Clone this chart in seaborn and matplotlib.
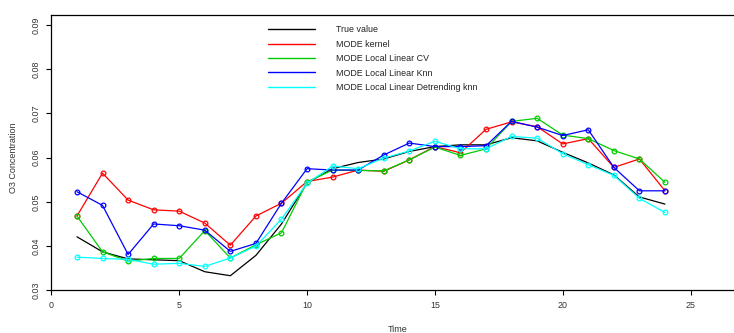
import matplotlib
matplotlib.use("Agg")
import matplotlib.pyplot as plt
from matplotlib.lines import Line2D
import numpy as np
import pandas as pd
import seaborn as sns

# Hourly ozone concentration: observed values and four MODE predictors
time = list(range(1, 25))
true_value = [0.0421, 0.0387, 0.0371, 0.0369, 0.0367, 0.0342, 0.0333, 0.0379, 0.0450,
              0.0543, 0.0575, 0.0589, 0.0597, 0.0614, 0.0625, 0.0629, 0.0629, 0.0645,
              0.0638, 0.0612, 0.0588, 0.0561, 0.0511, 0.0495]
mode_kernel = [0.0468, 0.0565, 0.0504, 0.0482, 0.0479, 0.0452, 0.0402, 0.0468, 0.0497,
               0.0546, 0.0556, 0.0572, 0.0569, 0.0595, 0.0625, 0.0611, 0.0664, 0.0681,
               0.0670, 0.0631, 0.0643, 0.0578, 0.0597, 0.0525]
mode_ll_cv = [0.0468, 0.0387, 0.0366, 0.0372, 0.0372, 0.0435, 0.0373, 0.0403, 0.0430,
              0.0545, 0.0572, 0.0571, 0.0570, 0.0595, 0.0624, 0.0605, 0.0620, 0.0682,
              0.0689, 0.0651, 0.0643, 0.0616, 0.0597, 0.0544]
mode_ll_knn = [0.0523, 0.0492, 0.0381, 0.0450, 0.0446, 0.0436, 0.0388, 0.0406, 0.0497,
               0.0575, 0.0572, 0.0572, 0.0606, 0.0633, 0.0625, 0.0625, 0.0627, 0.0682,
               0.0669, 0.0650, 0.0663, 0.0578, 0.0525, 0.0525]
mode_ll_detrend = [0.0375, 0.0372, 0.0370, 0.0359, 0.0361, 0.0354, 0.0373, 0.0400, 0.0461,
                   0.0542, 0.0581, 0.0575, 0.0599, 0.0615, 0.0637, 0.0620, 0.0620, 0.0648,
                   0.0644, 0.0609, 0.0584, 0.0560, 0.0508, 0.0476]

labels = ["True value", "MODE kernel", "MODE Local Linear CV",
          "MODE Local Linear Knn", "MODE Local Linear Detrending knn"]
colors = ["black", "#ff0000", "#00cc00", "#0000ff", "#00ffff"]
series = [true_value, mode_kernel, mode_ll_cv, mode_ll_knn, mode_ll_detrend]

sns.set_theme(style="ticks")
plt.rcParams["font.family"] = ["Liberation Sans", "DejaVu Sans"]

fig = plt.figure(figsize=(7.34, 3.33), dpi=100)
ax = fig.add_axes([51.4 / 734, 1 - 290.3 / 333, (745 - 51.4) / 734, (290.3 - 15) / 333])

for lab, col, vals in zip(labels, colors, series):
    df = pd.DataFrame({"Time": time, "O3": vals})
    if lab == "True value":
        sns.lineplot(data=df, x="Time", y="O3", ax=ax, color=col, lw=0.9)
    else:
        sns.lineplot(data=df, x="Time", y="O3", ax=ax, color=col, lw=0.9,
                     marker="o", markersize=3.4, markerfacecolor="none",
                     markeredgecolor=col, markeredgewidth=0.9)

ax.set_xlim(0, 27.13)
ax.set_ylim(0.03, 0.09226)
ax.set_xticks([0, 5, 10, 15, 20, 25])
ax.set_yticks([0.03, 0.04, 0.05, 0.06, 0.07, 0.08, 0.09])
ax.set_yticklabels([f"{v:.2f}" for v in [0.03, 0.04, 0.05, 0.06, 0.07, 0.08, 0.09]],
                   rotation=90, va="center")
ax.tick_params(axis="both", labelsize=6.4, length=3.6, width=0.8, colors="black",
               labelcolor="#333333", pad=4)
for s in ax.spines.values():
    s.set_linewidth(0.9)
    s.set_color("black")

ax.set_xlabel("")
ax.set_ylabel("")
fig.text(398 / 734, 1 - 330 / 333, "Time", ha="center", va="center", fontsize=6.5,
         color="#333333")
fig.text(14 / 734, 1 - 158 / 333, "O3 Concentration", ha="center", va="center",
         rotation=90, fontsize=6.5, color="#333333")

handles = [Line2D([0], [0], color=c, lw=1.0) for c in colors]
leg = ax.legend(handles, labels, loc="upper left",
                bbox_to_anchor=(268 / 734, 1 - 25.5 / 333), bbox_transform=fig.transFigure,
                frameon=False, fontsize=6.4, handlelength=5.3, handletextpad=2.4,
                labelspacing=0.6, borderpad=0, borderaxespad=0)
for t in leg.get_texts():
    t.set_color("#222222")

fig.savefig("out.png", dpi=100)
